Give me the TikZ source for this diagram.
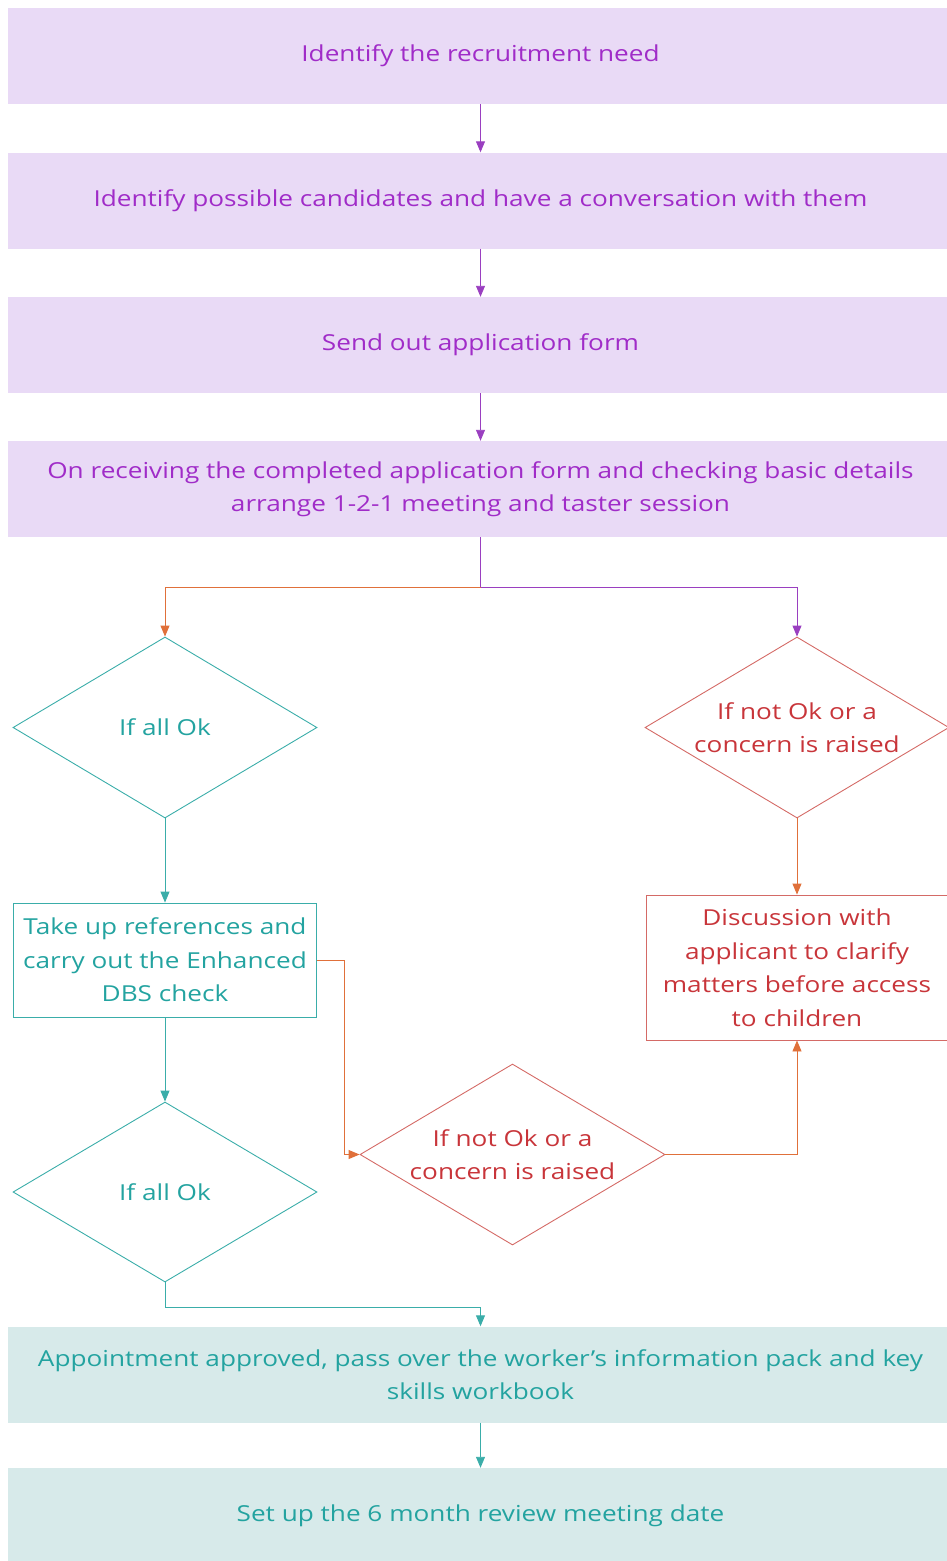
\documentclass[tikz,border=0pt]{standalone}
\usepackage{fontspec}
\setmainfont{Open Sans}[FakeStretch=1.19]
\usetikzlibrary{shapes.geometric,arrows.meta}
\definecolor{purptxt}{HTML}{A02CC8}
\definecolor{purpfill}{HTML}{E9DAF6}
\definecolor{purpline}{HTML}{9A3FC0}
\definecolor{tealtxt}{HTML}{23A3A0}
\definecolor{tealfill}{HTML}{D7EAEA}
\definecolor{tealline}{HTML}{3AADA9}
\definecolor{redtxt}{HTML}{C8353A}
\definecolor{redline}{HTML}{D46A66}
\definecolor{orangeline}{HTML}{E0703A}
\tikzset{
  txt/.style={align=center, font=\fontsize{22}{33.5}\selectfont, inner sep=0pt},
  pbox/.style={txt, fill=purpfill, text=purptxt, minimum width=945, minimum height=96},
  tbox/.style={txt, fill=tealfill, text=tealtxt, minimum width=945, minimum height=96},
  tdia/.style={diamond, inner sep=0pt, draw=tealline, line width=0.9pt, minimum width=304, minimum height=181},
  rdia/.style={diamond, inner sep=0pt, draw=redline, line width=0.9pt, minimum width=304, minimum height=181},
  tlab/.style={txt, text=tealtxt},
  rlab/.style={txt, text=redtxt},
  tout/.style={txt, draw=tealline, line width=0.9pt, text=tealtxt},
  rout/.style={txt, draw=redline, line width=0.9pt, text=redtxt},
  tip/.style={-{Triangle[width=9pt,length=11pt]}},
  pconn/.style={tip, draw=purpline, line width=0.9pt},
  tconn/.style={tip, draw=tealline, line width=0.9pt},
  oconn/.style={tip, draw=orangeline, line width=0.9pt},
}
\begin{document}
\begin{tikzpicture}[x=1pt,y=-1pt]
\useasboundingbox (0,0) rectangle (947,1561);
\node[pbox] (b1) at (480.5,56) {Identify the recruitment need};
\node[pbox] (b2) at (480.5,200.5) {Identify possible candidates and have a conversation with them};
\node[pbox] (b3) at (480.5,345) {Send out application form};
\node[pbox] (b4) at (480.5,489) {On receiving the completed application form and checking basic details\\arrange 1-2-1 meeting and taster session};
\node[tdia, label={[tlab]center:If all Ok}] (d1) at (165,727.5) {};
\node[rdia, label={[rlab]center:If not Ok or a\\concern is raised}] (d2) at (797,727.5) {};
\node[tout, minimum width=303, minimum height=114] (b5) at (165,960) {Take up references and\\carry out the Enhanced\\DBS check};
\node[rout, minimum width=302, minimum height=145] (b6) at (797,967.5) {Discussion with\\applicant to clarify\\matters before access\\to children};
\node[rdia, minimum width=305, label={[rlab]center:If not Ok or a\\concern is raised}] (d3) at (512.5,1154.5) {};
\node[tdia, minimum height=180, label={[tlab]center:If all Ok}] (d4) at (165,1192) {};
\node[tbox] (b7) at (480.5,1374.5) {Appointment approved, pass over the worker's information pack and key\\skills workbook};
\node[tbox] (b8) at (480.5,1516) {Set up the 6 month review meeting date};
\coordinate (split) at (480.5,587);
\coordinate (lowturn) at (165,1307);
\draw[pconn] (b1) -- (b2);
\draw[pconn] (b2) -- (b3);
\draw[pconn] (b3) -- (b4);
\draw[draw=purpline, line width=0.9pt] (b4.south) -- (split);
\draw[oconn] (split) -| (d1.north);
\draw[pconn] (split) -| (d2.north);
\draw[tconn] (d1.south) -- (b5.north);
\draw[oconn] (d2.south) -- (b6.north);
\draw[oconn] (b5.east) -- ++(27,0) |- (d3.west);
\draw[oconn] (d3.east) -| (b6.south);
\draw[tconn] (b5.south) -- (d4.north);
\draw[tconn] (d4.south) -- (lowturn) -| (b7.north);
\draw[tconn] (b7) -- (b8);
\end{tikzpicture}
\end{document}
